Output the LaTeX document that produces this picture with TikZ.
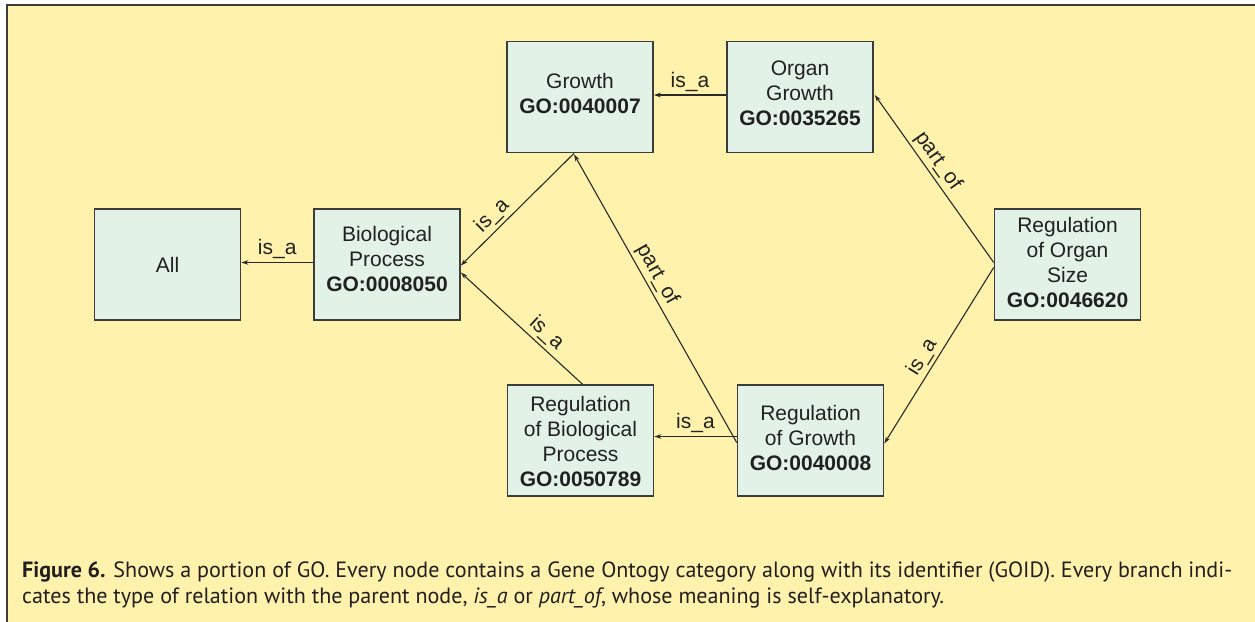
\documentclass[tikz,border=0pt]{standalone}
\usepackage{fontspec}
\usepackage{graphicx}
\usetikzlibrary{arrows.meta,calc}
\newfontfamily\nodefont{Liberation Sans}
\newfontfamily\capfont{PT Sans}
\definecolor{bgyellow}{HTML}{FEF2AC}
\definecolor{boxfill}{HTML}{E3F2E6}
\definecolor{boxline}{HTML}{3C3C3C}
\definecolor{arrline}{HTML}{2A2A2A}
\definecolor{captext}{HTML}{231F20}
\newsavebox\capone
\newcommand\capsize{\capfont\fontsize{20}{26}\selectfont}
\begin{document}
\begin{tikzpicture}[x=1pt,y=-1pt,
  gobox/.style={draw=boxline, line width=1.6pt, fill=boxfill, minimum width=146pt,
    minimum height=111pt, inner sep=0pt},
  gotext/.style={inner sep=0pt, align=center, text=black!87,
    font=\nodefont\fontsize{21}{25}\selectfont},
  rel/.style={draw=arrline, line width=1.1pt, -{Stealth[length=7pt,width=4.5pt]}},
  lbl/.style={font=\nodefont\fontsize{21}{25}\selectfont, text=black!87, inner sep=3pt, sloped, above},
  captxt/.style={anchor=base west, inner sep=0pt, text=captext}
  ]
\useasboundingbox (0,0) rectangle (1255,621);
\fill[bgyellow] (7,5) rectangle (1265,630);
\draw[boxline, line width=2pt] (7,630) -- (7,5) -- (1265,5);

\node[gobox, label={[gotext]center:{All}}] (all) at (167.5,264.5) {};
\node[gobox, label={[gotext,yshift=6pt]center:{Biological\\Process\\\textbf{GO:0008050}}}] (bio) at (387,264.5) {};
\node[gobox, label={[gotext,yshift=4pt]center:{Growth\\\textbf{GO:0040007}}}] (growth) at (580,97) {};
\node[gobox, label={[gotext,yshift=4pt]center:{Organ\\Growth\\\textbf{GO:0035265}}}] (organ) at (800,97) {};
\node[gobox, label={[gotext,yshift=2.5pt]center:{Regulation\\of Organ\\Size\\\textbf{GO:0046620}}}] (regorg) at (1067.5,264.5) {};
\node[gobox, label={[gotext,yshift=2.5pt]center:{Regulation\\of Growth\\\textbf{GO:0040008}}}] (reggrowth) at (810.5,440.5) {};
\node[gobox, label={[gotext,yshift=-0.5pt]center:{Regulation\\of Biological\\Process\\\textbf{GO:0050789}}}] (regbio) at (580.5,440.5) {};

\draw[rel] ($(bio.west)+(0,-2)$) -- node[lbl] {is\_a} ($(all.east)+(0,-2)$);
\draw[rel] ($(organ.west)+(0,-2)$) -- node[lbl] {is\_a} ($(growth.east)+(0,-2)$);
\draw[rel] ($(growth.south)+(-6,0)$) -- node[lbl, pos=0.64] {is\_a} ($(bio.east)+(0,1)$);
\draw[rel] ($(regbio.north)+(2,0)$) -- node[lbl, pos=0.37] {is\_a} ($(bio.east)+(0,8)$);
\draw[rel] ($(reggrowth.west)+(0,2)$) -- node[lbl, pos=0.56] {part\_of} ($(growth.south)+(-6,1)$);
\draw[rel] ($(reggrowth.west)+(0,-4)$) -- node[lbl] {is\_a} ($(regbio.east)+(0,-4)$);
\draw[rel] ($(regorg.west)+(0,-2)$) -- node[lbl, pos=0.56] {part\_of} ($(organ.east)+(1,-2)$);
\draw[rel] ($(regorg.west)+(0,3)$) -- node[lbl, pos=0.55] {is\_a} ($(reggrowth.east)+(0,3)$);

\node[captxt] (capA) at (22,577) {\sbox\capone{\capsize\textbf{Figure 6.} Shows a portion of GO. Every node contains a Gene Ontogy category along with its identifier (GOID). Every branch indi-}%
  \pgfmathsetmacro\capscale{1210/\the\wd\capone}\global\let\capscaleG\capscale
  \scalebox{\capscaleG}{\usebox\capone}};
\node[captxt] (capB) at (22,603) {\scalebox{\capscaleG}{\capsize cates the type of relation with the parent node, \textit{is\_a} or \textit{part\_of}, whose meaning is self-explanatory.}};
\end{tikzpicture}
\end{document}
